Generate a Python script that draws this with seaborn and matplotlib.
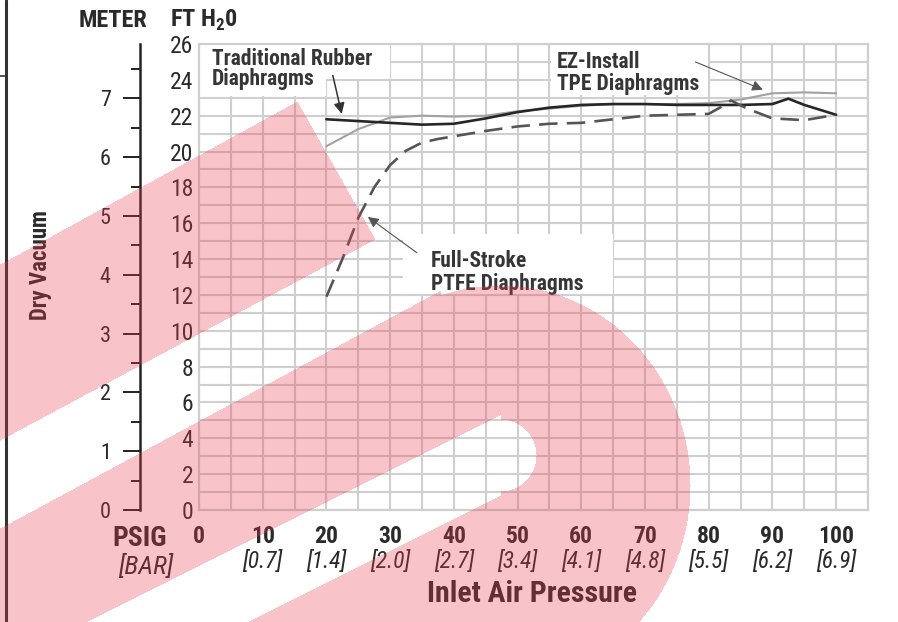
import numpy as np
import seaborn as sns
import matplotlib
matplotlib.use("Agg")
import matplotlib.pyplot as plt
from matplotlib import font_manager
from matplotlib.patches import Rectangle
from matplotlib.lines import Line2D
from matplotlib.ticker import MultipleLocator
from matplotlib.transforms import blended_transform_factory

# Curvas: presión de entrada (PSIG) vs vacío seco (ft H2O)
psi_rubber = [20, 25, 30, 35, 40, 45, 50, 55, 60, 65, 70, 75, 80, 85, 90, 92.5, 95, 100]
ft_rubber = [21.8, 21.7, 21.6, 21.5, 21.55, 21.85, 22.2, 22.45, 22.6, 22.65, 22.65,
             22.6, 22.6, 22.6, 22.65, 22.95, 22.6, 22.05]

psi_tpe = [20, 25, 30, 35, 40, 45, 50, 55, 60, 65, 70, 75, 80, 85, 90, 95, 100]
ft_tpe = [20.3, 21.25, 21.9, 22.0, 21.95, 22.0, 22.25, 22.4, 22.55, 22.65, 22.65,
          22.65, 22.7, 22.9, 23.25, 23.3, 23.25]

psi_ptfe = [20, 22.5, 25, 27.5, 30, 32.5, 35, 37.5, 40, 45, 50, 55, 60, 65, 70, 75, 80,
            82, 83.5, 86, 90, 95, 100]
ft_ptfe = [11.9, 14.0, 16.3, 18.0, 19.25, 20.05, 20.5, 20.7, 20.85, 21.15, 21.4, 21.55,
           21.6, 21.8, 22.0, 22.05, 22.1, 22.5, 22.85, 22.4, 21.85, 21.75, 22.05]

psi_ticks = [0, 10, 20, 30, 40, 50, 60, 70, 80, 90, 100]
bar_ticks = [0.7, 1.4, 2.0, 2.7, 3.4, 4.1, 4.8, 5.5, 6.2, 6.9]
ft_ticks = list(range(0, 27, 2))
meter_ticks = list(range(0, 8))
FT_PER_M = 3.2808

W, H = 898, 622


def pick_font():
    names = {f.name for f in font_manager.fontManager.ttflist}
    for n in ["Liberation Sans Narrow", "Roboto Condensed", "Open Sans Condensed",
              "DejaVu Sans Condensed", "Liberation Sans"]:
        if n in names:
            return n
    return "DejaVu Sans"


def fx(px):
    return px / W


def fy(py):
    return 1 - py / H


sns.set_theme(style="white")
FONT = pick_font()
plt.rcParams["font.family"] = [FONT, "DejaVu Sans"]
plt.rcParams["mathtext.fontset"] = "custom"
plt.rcParams["mathtext.rm"] = FONT
plt.rcParams["mathtext.bf"] = FONT + ":bold"

TXT = "#2a2a2a"

fig = plt.figure(figsize=(W / 100, H / 100), dpi=100)
fig.patch.set_facecolor("white")
ax = fig.add_axes([fx(199), fy(510), (868 - 199) / W, (510 - 44) / H])
ax.set_facecolor("white")

# curvas
sns.lineplot(x=psi_tpe, y=ft_tpe, ax=ax, color="#a2a2a2", lw=1.5, zorder=4)
sns.lineplot(x=psi_rubber, y=ft_rubber, ax=ax, color="#262626", lw=1.9, zorder=5)
sns.lineplot(x=psi_ptfe, y=ft_ptfe, ax=ax, color="#555555", lw=1.9, zorder=5)
ax.lines[-1].set_dashes([7, 3.5])

ax.set_xlim(0, 105)
ax.set_ylim(0, 26)
ax.set_xlabel("")
ax.set_ylabel("")
ax.set_xticks(psi_ticks)
ax.set_xticklabels([str(p) for p in psi_ticks], fontweight="bold", fontsize=17, color=TXT)
ax.xaxis.set_minor_locator(MultipleLocator(5))
ax.set_yticks(ft_ticks)
ax.set_yticklabels([str(v) for v in ft_ticks], fontsize=17, color=TXT)
ax.yaxis.set_minor_locator(MultipleLocator(1))
ax.tick_params(which="both", length=0)
ax.tick_params(axis="x", pad=11)
ax.tick_params(axis="y", pad=4)
ax.grid(which="both", color="#cfcfcf", lw=1.5)
ax.set_axisbelow(True)
for s in ax.spines.values():
    s.set_color("#cfcfcf")
    s.set_linewidth(1.6)

# cajas blancas detrás de las etiquetas
for (x0, x1, y0, y1) in [(0.15, 29.9, 24.05, 25.95), (0.15, 19.9, 23.1, 24.05),
                         (55.2, 79.85, 23.15, 25.95), (32.0, 64.9, 12.05, 15.4)]:
    ax.add_patch(Rectangle((x0, y0), x1 - x0, y1 - y0, facecolor="white",
                           edgecolor="none", zorder=1))

# eje secundario en metros
sec = ax.secondary_yaxis((140 - 199) / (868 - 199),
                         functions=(lambda f: f / FT_PER_M, lambda m: m * FT_PER_M))
sec.set_yticks(meter_ticks)
sec.set_yticklabels([str(m) for m in meter_ticks], fontsize=16, color=TXT)
sec.yaxis.set_minor_locator(MultipleLocator(0.5))
sec.tick_params(which="major", length=12, width=1.4, direction="out", pad=9, color="#222222")
sec.tick_params(which="minor", length=6.5, width=1.4, direction="out", color="#222222")
sec.spines["left"].set_linewidth(1.8)
sec.spines["left"].set_color("#222222")

# etiquetas de las curvas
ann = dict(fontsize=15.5, fontweight="bold", color="#363636", zorder=6)
ax.text(2.0, 24.83, "Traditional Rubber", va="baseline", **ann)
ax.text(2.0, 23.72, "Diaphragms", va="baseline", **ann)
ax.text(56.2, 24.67, "EZ-Install", va="baseline", **ann)
ax.text(56.2, 23.44, "TPE Diaphragms", va="baseline", **ann)
ax.text(36.4, 13.56, "Full-Stroke", va="baseline", **ann)
ax.text(36.4, 12.28, "PTFE Diaphragms", va="baseline", **ann)

ax.annotate("", xy=(22.4, 22.1), xytext=(21.0, 24.25),
            arrowprops=dict(arrowstyle="-|>", color="#333333", lw=1.1,
                            mutation_scale=16, shrinkA=0, shrinkB=0), zorder=6)
ax.annotate("", xy=(88.5, 23.45), xytext=(77.9, 25.0),
            arrowprops=dict(arrowstyle="-|>", color="#555555", lw=0.8,
                            mutation_scale=16, shrinkA=0, shrinkB=0), zorder=6)
ax.annotate("", xy=(26.5, 16.35), xytext=(34.2, 14.35),
            arrowprops=dict(arrowstyle="-|>", color="#555555", lw=0.8,
                            mutation_scale=16, shrinkA=0, shrinkB=0), zorder=6)

# etiquetas en bar bajo cada presión
trans = blended_transform_factory(ax.transData, fig.transFigure)
for p, b in zip(psi_ticks[1:], bar_ticks):
    ax.text(p, fy(561), f"[{b:.1f}]", transform=trans, ha="center", va="center",
            fontsize=17, style="italic", color=TXT)

fig.text(fx(79), fy(27), "METER", fontsize=17.5, fontweight="bold", color=TXT, va="baseline")
fig.text(fx(170), fy(27), r"FT H$_\mathbf{2}$0", fontsize=17.5, fontweight="bold",
         color=TXT, va="baseline")
fig.text(fx(40), fy(265), "Dry Vacuum", rotation=90, fontsize=16.5, fontweight="bold",
         color=TXT, ha="center", va="center")
fig.text(fx(167), fy(546), "PSIG", fontsize=20, fontweight="bold", color=TXT,
         ha="right", va="baseline")
fig.text(fx(173), fy(574), "[BAR]", fontsize=19, style="italic", color=TXT,
         ha="right", va="baseline")
fig.text(fx(532), fy(602), "Inlet Air Pressure", fontsize=21.5, fontweight="bold",
         color=TXT, ha="center", va="baseline")

# borde izquierdo de la página
fig.add_artist(Line2D([fx(6), fx(6)], [0, 1], color="#333333", lw=2.2))
fig.add_artist(Line2D([0, fx(7)], [fy(76), fy(76)], color="#333333", lw=1.2))

# marca de agua rosa por encima de todo
yy, xx = np.mgrid[0:H, 0:W]
band1 = (yy >= 264 - 0.549 * xx) & (yy <= 440 - 0.536 * xx) & \
        ((78 * (yy - 101) - 138 * (xx - 297)) > 0)
band2 = (yy >= 528 - 0.54 * xx) & (xx <= 440)
ring = ((xx - 500) / 190.0) ** 2 + ((yy - 485) / 200.0) ** 2 <= 1
yc = 480 + 0.5 * (450 - xx)
slot = ((np.abs(yy - yc) <= 40) & (xx <= 500)) | ((xx - 500) ** 2 + (yy - 455) ** 2 <= 36 ** 2)
mask = (band1 | band2 | ring) & ~slot
overlay = np.zeros((H, W, 4))
overlay[..., 0] = 232 / 255
overlay[..., 1] = 60 / 255
overlay[..., 2] = 80 / 255
overlay[..., 3] = mask * 0.3
fig.figimage(overlay, xo=0, yo=0, origin="upper", zorder=10)

fig.savefig("out.png", dpi=100)
